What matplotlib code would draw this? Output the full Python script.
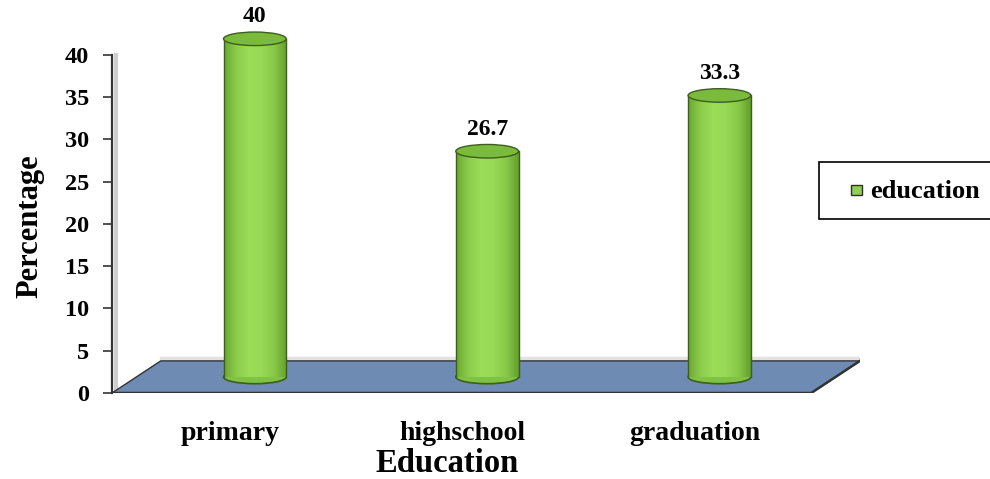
import numpy as np
import matplotlib
matplotlib.use('Agg')
import matplotlib.pyplot as plt
from matplotlib.patches import Rectangle, Ellipse, Polygon
from matplotlib.colors import LinearSegmentedColormap

# Data.
categories = ['primary', 'highschool', 'graduation']
values = [40, 26.7, 33.3]
value_labels = ['40', '26.7', '33.3']
series_name = 'education'
y_ticks = [0, 5, 10, 15, 20, 25, 30, 35, 40]

plt.rcParams['font.family'] = ['Liberation Serif', 'DejaVu Serif']
plt.rcParams['font.weight'] = 'bold'

fig = plt.figure(figsize=(9.9, 4.79), dpi=100)
ax = fig.add_axes([112 / 990, 86 / 479, 748 / 990, 388 / 479])

# Fake 3D depth (in data units): floor depth and bar position at half depth.
depth_x, depth_y = 0.21, 3.8
bar_dx, bar_dy = depth_x / 2, 1.9
bar_w = 0.27
cap_h = 1.6
x_min, x_max = -0.51, 2.5

green_cmap = LinearSegmentedColormap.from_list(
    'cyl', ['#6aa830', '#8ccd4c', '#9bdc58', '#97d955', '#88c848', '#62a02c'])
edge_green = '#3d5e1c'

# Floor.
ax.plot([x_min, x_max], [-0.35, -0.35], color='#d0d0d0', lw=2.5, zorder=0.5)
ax.plot([x_min + depth_x, x_max + depth_x], [depth_y + 0.3, depth_y + 0.3],
        color='#e2e2e2', lw=2.5, zorder=0.5)
floor = Polygon([(x_min, 0), (x_min + depth_x, depth_y), (x_max + depth_x, depth_y),
                 (x_max, 0)], closed=True, facecolor='#6d8bb3', edgecolor='#333333',
                lw=1.0, zorder=1)
ax.add_patch(floor)
ax.plot([x_min, x_max, x_max + depth_x], [0, 0, depth_y], color='#333333', lw=1.8, zorder=2)

# Cylinders.
positions = np.arange(len(categories))
for x, v, lab in zip(positions, values, value_labels):
    cx = x + bar_dx
    x0, x1 = cx - bar_w / 2, cx + bar_w / 2
    y0, y1 = bar_dy, bar_dy + v
    bottom = Ellipse((cx, y0), bar_w, cap_h, facecolor='#80c243', edgecolor=edge_green,
                     lw=1.2, zorder=3)
    ax.add_patch(bottom)
    body = Rectangle((x0, y0), bar_w, v, facecolor='none', edgecolor='none', zorder=4)
    ax.add_patch(body)
    grad = np.linspace(0, 1, 256).reshape(1, -1)
    im = ax.imshow(grad, extent=[x0, x1, y0, y1], aspect='auto', cmap=green_cmap,
                   zorder=4, interpolation='bilinear')
    im.set_clip_path(body)
    ax.plot([x0, x0], [y0, y1], color=edge_green, lw=1.0, zorder=5)
    ax.plot([x1, x1], [y0, y1], color=edge_green, lw=1.0, zorder=5)
    top = Ellipse((cx, y1), bar_w, cap_h, facecolor='#7aba3d', edgecolor=edge_green,
                  lw=1.0, zorder=6)
    ax.add_patch(top)
    ax.annotate(lab, (cx, y1 + cap_h / 2), xytext=(0, 7), textcoords='offset points',
                ha='center', va='baseline', fontsize=17, fontweight='bold', zorder=7)

ax.set_xlim(x_min, x_max + depth_x)
ax.set_ylim(0, 45.9)

# Axes styling.
ax.set_yticks(y_ticks)
ax.set_yticklabels([str(t) for t in y_ticks], fontsize=17.5, fontweight='bold')
ax.tick_params(axis='y', length=6.5, width=1.2, color='#333333', pad=10)
ax.set_xticks(positions)
ax.set_xticklabels(categories, fontsize=20, fontweight='bold')
ax.tick_params(axis='x', length=0, pad=20)
for side in ['top', 'right', 'bottom']:
    ax.spines[side].set_visible(False)
ax.spines['left'].set_bounds(0, 40)
ax.spines['left'].set_color('#333333')
ax.spines['left'].set_linewidth(1.6)
ax.plot([0.005, 0.005], [0, 40], color='#cfcfcf', lw=3, zorder=0.5,
        transform=ax.get_yaxis_transform())

ax.set_xlabel('Education', fontsize=23.5, fontweight='bold')
ax.xaxis.set_label_coords(0.448, -0.142)
ax.set_ylabel('Percentage', fontsize=22, fontweight='bold')
ax.yaxis.set_label_coords(-0.090, 0.429)

# Legend box (runs off the right edge like the original).
fig.patches.append(Rectangle((819 / 990, 260 / 479), 0.2, 57 / 479, transform=fig.transFigure,
                             facecolor='white', edgecolor='black', lw=1.2, zorder=5))
fig.patches.append(Rectangle((851 / 990, 284 / 479), 11 / 990, 10 / 479,
                             transform=fig.transFigure, facecolor='#8fd14f',
                             edgecolor='#2e2e2e', lw=1.0, zorder=6))
fig.text(870 / 990, 288 / 479, series_name, fontsize=19, fontweight='bold',
         va='center', ha='left', zorder=7)

fig.savefig('out.png', dpi=100)
